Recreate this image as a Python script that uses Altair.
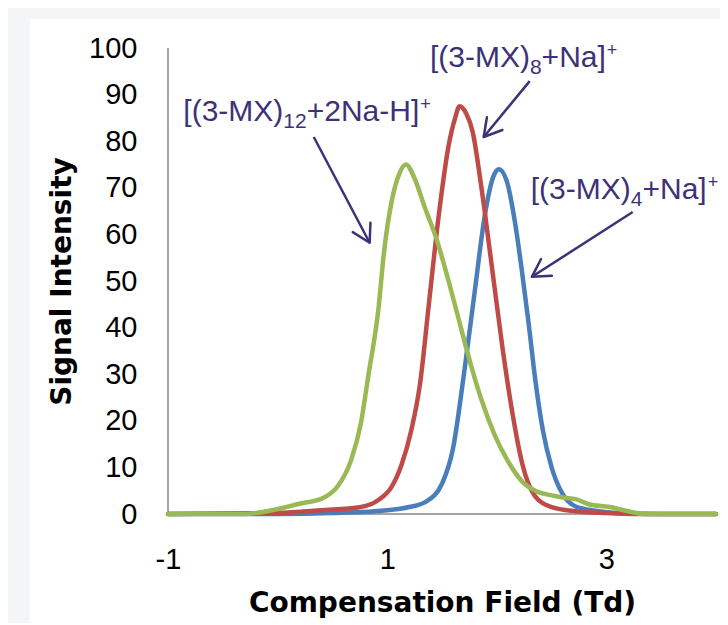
import math
import altair as alt
import pandas as pd

# ---- data ----
blue_x = [-1.0, 0.0, 0.5, 1.0, 1.2, 1.35, 1.5, 1.6, 1.7, 1.8, 1.89, 1.97, 2.02, 2.09, 2.17, 2.23, 2.29, 2.35, 2.42, 2.5, 2.6, 2.72, 2.9, 3.1, 3.5, 4.0]
blue_y = [0, 0, 0.2, 0.8, 1.5, 2.6, 6.5, 14, 30, 48, 64, 72.5, 74, 71.5, 62, 52, 41, 29, 18, 10, 4.3, 1.6, 0.7, 0.2, 0, 0]

red_x = [-1.0, 0.0, 0.4, 0.76, 0.92, 1.04, 1.13, 1.22, 1.3, 1.38, 1.47, 1.56, 1.62, 1.66, 1.72, 1.78, 1.86, 1.95, 2.05, 2.14, 2.23, 2.35, 2.5, 2.72, 3.0, 3.3, 4.0]
red_y = [0, 0.2, 0.8, 1.5, 3, 5.8, 10.5, 18, 28, 45, 64, 79, 85, 87.5, 86, 82, 70, 54, 36, 22, 11, 3.8, 1.5, 0.6, 0.2, 0, 0]

green_x = [-1.0, -0.3, -0.05, 0.2, 0.42, 0.55, 0.67, 0.76, 0.83, 0.92, 0.97, 1.04, 1.11, 1.17, 1.25, 1.34, 1.45, 1.56, 1.65, 1.74, 1.86, 1.98, 2.11, 2.23, 2.35, 2.5, 2.62, 2.72, 2.84, 3.03, 3.2, 3.35, 4.0]
green_y = [0, 0, 0.8, 2.2, 3.5, 6, 11.5, 19.5, 30, 44, 56, 67, 73, 75, 72, 66, 59, 50, 42, 34, 24.5, 17, 11, 7, 5, 4, 3.5, 3.2, 2.1, 1.5, 0.6, 0, 0]

x_ticks = [-1, 1, 3]
y_ticks = [0, 10, 20, 30, 40, 50, 60, 70, 80, 90, 100]

label_head = "[(3-MX)"
label_sub = ["12", "8", "4"]
label_tail = ["+2Na-H]", "+Na]", "+Na]"]
label_x = [-0.86, 1.39, 2.31]
label_y = [84.3, 95.9, 67.6]

arrow_x1 = [0.33, 2.30, 3.24]
arrow_y1 = [80.9, 92.9, 64.8]
arrow_x2 = [0.84, 1.88, 2.32]
arrow_y2 = [58.2, 80.9, 50.9]

# ---- styling ----
W, H = 548, 466
X_DOM, Y_DOM = [-1, 4], [0, 100]
BLUE, RED, GREEN = "#4A7EBB", "#BE4B48", "#98B954"
PURPLE = "#3D3277"
AXIS_GRAY = "#868686"
F_MAIN, F_SUB, F_SUP = 30, 21, 18

ARIAL = {"[": 278, "(": 333, "3": 556, "-": 333, "M": 833, "X": 667, ")": 333,
         "+": 584, "2": 556, "N": 722, "a": 556, "H": 722, "]": 278, "1": 556,
         "8": 556, "4": 556}


def tw(s, fs):
    return sum(ARIAL[c] for c in s) / 1000.0 * fs


xs = alt.Scale(domain=X_DOM, nice=False, zero=False)
ys = alt.Scale(domain=Y_DOM, nice=False, zero=False)

xaxis = alt.Axis(values=x_ticks, format="d", title="Compensation Field (Td)", grid=False, ticks=False,
                 tickSize=0, domain=False, zindex=1,
                 labelPadding=31, labelFont="Liberation Sans", labelFontSize=29, labelColor="black",
                 labelFlush=False, labelOverlap=False,
                 labelExpr="replace(datum.label, '\u2212', '-')",
                 titleFont="DejaVu Sans", titleFontSize=28, titleFontWeight="bold", titleColor="black",
                 titleY=89, titleBaseline="middle")
yaxis = alt.Axis(values=y_ticks, format="d", title="Signal Intensity", grid=False, ticks=False, tickSize=0,
                 domain=False, zindex=1,
                 labelPadding=31, labelFont="Liberation Sans", labelFontSize=29, labelColor="black",
                 labelFlush=False, labelOverlap=False,
                 titleFont="DejaVu Sans", titleFontSize=28, titleFontWeight="bold", titleColor="black",
                 titleX=-106, titleY=H / 2, titleBaseline="middle", titleAlign="center", titleAngle=270)

X = alt.X("x:Q", scale=xs, axis=xaxis)
Y = alt.Y("y:Q", scale=ys, axis=yaxis)

one = pd.DataFrame({"a": [0]})
bg = alt.Chart(one).mark_rect(color="white").encode(
    x=alt.value(-138), x2=alt.value(W + 30), y=alt.value(-29), y2=alt.value(H + 130))

# axis lines drawn beneath the data lines
x_line = alt.Chart(one).mark_rule(color=AXIS_GRAY, strokeWidth=1.5).encode(
    y=alt.datum(Y_DOM[0], scale=ys))
y_line = alt.Chart(one).mark_rule(color=AXIS_GRAY, strokeWidth=1.5).encode(
    x=alt.datum(X_DOM[0], scale=xs))


def line(xv, yv, color):
    return alt.Chart(pd.DataFrame({"x": xv, "y": yv})).mark_line(
        color=color, strokeWidth=4.5, interpolate="monotone", strokeCap="round", strokeJoin="round"
    ).encode(x=X, y=Y)


layers = [bg, x_line, y_line,
          line(blue_x, blue_y, BLUE), line(red_x, red_y, RED), line(green_x, green_y, GREEN)]

# arrows
px_x = W / (X_DOM[1] - X_DOM[0])
px_y = H / (Y_DOM[1] - Y_DOM[0])
angles = [math.degrees(math.atan2(-(y2 - y1) * px_y, (x2 - x1) * px_x)) % 360
          for x1, y1, x2, y2 in zip(arrow_x1, arrow_y1, arrow_x2, arrow_y2)]
arr = pd.DataFrame({"x": arrow_x1, "y": arrow_y1, "x2": arrow_x2, "y2": arrow_y2, "angle": angles})
layers.append(alt.Chart(arr).mark_rule(color=PURPLE, strokeWidth=2.5).encode(
    x=X, y=Y, x2="x2:Q", y2="y2:Q"))
heads = pd.DataFrame({"x": arrow_x2, "y": arrow_y2, "angle": angles})
layers.append(alt.Chart(heads).mark_point(
    shape="M -1 -0.577 L 0 0 L -1 0.577", size=1200, filled=False, strokeWidth=2.5,
    color=PURPLE, opacity=1, strokeCap="round", strokeJoin="round"
).encode(x=X, y=Y, angle=alt.Angle("angle:Q", scale=None)))

# labels with subscripts / superscripts
for lx, ly, sub, tail in zip(label_x, label_y, label_sub, label_tail):
    d = pd.DataFrame({"x": [lx], "y": [ly]})
    w1 = tw(label_head, F_MAIN)
    w2 = tw(sub, F_SUB)
    w3 = tw(tail, F_MAIN)
    pieces = [
        (label_head, F_MAIN, 0, 0),
        (sub, F_SUB, w1, 7),
        (tail, F_MAIN, w1 + w2, 0),
        ("+", F_SUP, w1 + w2 + w3 + 1, -11),
    ]
    for txt, fs, dx, dy in pieces:
        layers.append(alt.Chart(d).mark_text(
            text=txt, font="Liberation Sans", fontSize=fs, color=PURPLE,
            align="left", baseline="alphabetic", dx=dx, dy=dy
        ).encode(x=X, y=Y))

chart = alt.layer(*layers).properties(
    width=W, height=H,
    padding={"left": 160, "top": 40, "right": 4, "bottom": 109},
    autosize=alt.AutoSizeParams(type="none"),
    background="#f4f5f7",
).configure_view(stroke=None)

chart.save("out.html", embed_options={"renderer": "svg", "actions": False})
